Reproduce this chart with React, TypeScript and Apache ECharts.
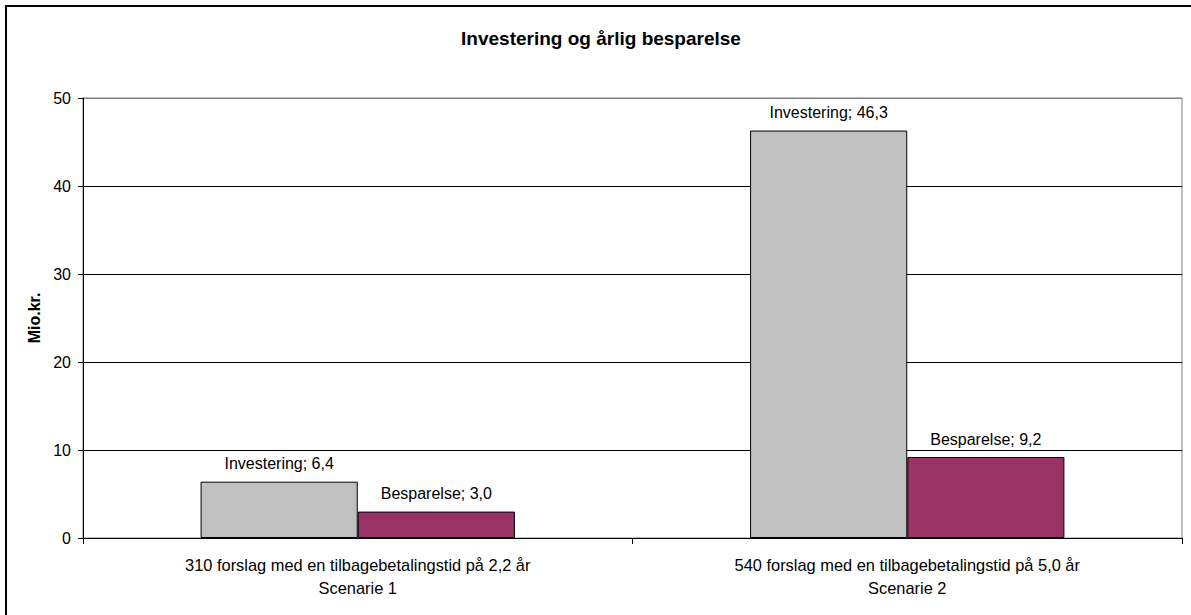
import React, { useEffect, useRef } from "react";
import * as echarts from "echarts";

const TITLE = "Investering og årlig besparelse";
const Y_NAME = "Mio.kr.";
const CATEGORIES = [
  "310 forslag med en tilbagebetalingstid på 2,2 år\nScenarie 1",
  "540 forslag med en tilbagebetalingstid på 5,0 år\nScenarie 2",
];
const SERIES_NAMES = ["Investering", "Besparelse"];
const INVESTERING = [6.4, 46.3];
const BESPARELSE = [3.0, 9.2];
const Y_MIN = 0;
const Y_MAX = 50;
const Y_STEP = 10;

const FONT = "'Liberation Sans', Arial, sans-serif";

export default function App() {
  const ref = useRef<HTMLDivElement>(null);

  useEffect(() => {
    if (!ref.current) return;
    const chart = echarts.init(ref.current, undefined, { renderer: "svg" });
    const fmt = (p: any) =>
      `${p.seriesName}; ${Number(p.value).toFixed(1).replace(".", ",")}`;
    const labelStyle = {
      show: true,
      position: "top" as const,
      distance: 10,
      formatter: fmt,
      fontFamily: FONT,
      fontSize: 16,
      color: "#000",
    };
    chart.setOption({
      animation: false,
      backgroundColor: "#fff",
      textStyle: { fontFamily: FONT },
      title: {
        text: TITLE,
        left: 596,
        textAlign: "center",
        top: 24,
        textStyle: { fontFamily: FONT, fontSize: 19, fontWeight: "bold", color: "#000" },
      },
      grid: {
        left: 83,
        right: 9,
        top: 98,
        bottom: 77,
        show: true,
        borderColor: "#808080",
        borderWidth: 1,
        backgroundColor: "transparent",
      },
      xAxis: {
        type: "category",
        data: CATEGORIES,
        axisLine: { show: true, lineStyle: { color: "#000", width: 1 } },
        axisTick: { show: true, length: 6, lineStyle: { color: "#000" } },
        axisLabel: {
          margin: 15,
          fontFamily: FONT,
          fontSize: 16.4,
          lineHeight: 23,
          color: "#000",
          interval: 0,
          align: "center",
        },
        splitLine: { show: false },
      },
      yAxis: {
        type: "value",
        min: Y_MIN,
        max: Y_MAX,
        interval: Y_STEP,
        name: Y_NAME,
        nameLocation: "middle",
        nameRotate: 90,
        nameGap: 40,
        nameTextStyle: { fontFamily: FONT, fontSize: 16, fontWeight: "bold", color: "#000" },
        axisLine: { show: true, lineStyle: { color: "#000", width: 1 } },
        axisTick: { show: true, inside: false, length: 5, lineStyle: { color: "#000" } },
        axisLabel: { margin: 12, fontFamily: FONT, fontSize: 16, color: "#000" },
        splitLine: {
          show: true,
          lineStyle: {
            color: ["#000", "#000", "#000", "#000", "#000", "#808080"],
            width: 1,
          },
        },
      },
      series: [
        {
          name: SERIES_NAMES[0],
          type: "bar",
          data: INVESTERING,
          barGap: "0%",
          barCategoryGap: "42.8%",
          itemStyle: { color: "#C0C0C0", borderColor: "#000", borderWidth: 1 },
          label: labelStyle,
        },
        {
          name: SERIES_NAMES[1],
          type: "bar",
          data: BESPARELSE,
          barGap: "0%",
          barCategoryGap: "42.8%",
          itemStyle: { color: "#993366", borderColor: "#000", borderWidth: 1 },
          label: labelStyle,
        },
      ],
      graphic: [
        {
          type: "rect",
          shape: { x: 6, y: 6, width: 1300, height: 800 },
          style: { fill: "none", stroke: "#000", lineWidth: 2 },
          silent: true,
          z: 100,
        },
      ],
    });
    return () => chart.dispose();
  }, []);

  return (
    <div
      ref={ref}
      style={{ position: "fixed", left: 0, top: 0, width: 1191, height: 615 }}
    />
  );
}
